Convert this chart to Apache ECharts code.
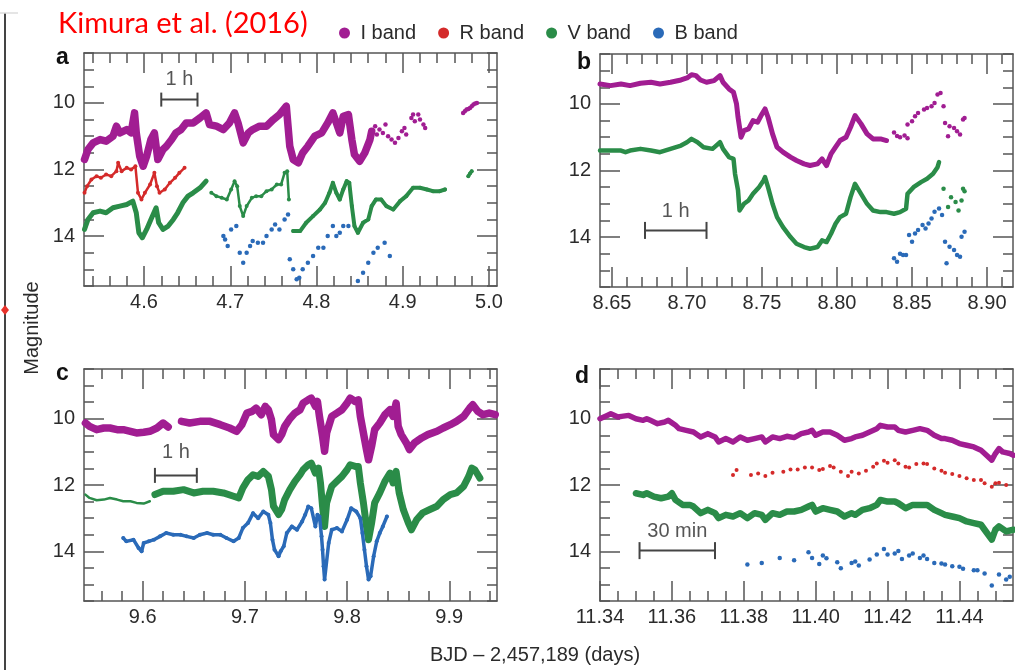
<!DOCTYPE html>
<html><head><meta charset="utf-8">
<script src="https://cdn.jsdelivr.net/npm/echarts@6/dist/echarts.min.js"></script>
<style>html,body{margin:0;padding:0;background:#fff}#c{width:1015px;height:670px}</style>
</head><body><div id="c"></div>
<script>
// ---------- tick labels ----------
const aTicks = [4.6, 4.7, 4.8, 4.9, 5.0];
const bTicks = [8.65, 8.70, 8.75, 8.80, 8.85, 8.90];
const cTicks = [9.6, 9.7, 9.8, 9.9];
const dTicks = [11.34, 11.36, 11.38, 11.40, 11.42, 11.44];
const yTicks = [10, 12, 14];

// ---------- panel a ----------
const aI = [[4.531,11.7],[4.535,11.4],[4.541,11.2],[4.549,11.1],[4.556,11.15],[4.564,11.0],[4.568,10.7],[4.572,10.9],[4.580,10.8],[4.585,10.9],[4.589,10.3],[4.591,10.9],[4.595,11.6],[4.599,11.9],[4.603,11.6],[4.608,11.1],[4.612,10.9],[4.616,11.7],[4.622,11.4],[4.626,11.3],[4.632,11.1],[4.637,10.9],[4.643,10.8],[4.649,10.6],[4.657,10.6],[4.665,10.45],[4.672,10.3],[4.676,10.65],[4.684,10.7],[4.692,10.8],[4.699,10.6],[4.705,10.3],[4.709,10.6],[4.715,11.2],[4.721,10.9],[4.726,10.8],[4.734,10.7],[4.742,10.7],[4.750,10.5],[4.757,10.35],[4.765,10.1],[4.767,10.7],[4.769,11.3],[4.773,11.7],[4.779,11.8],[4.784,11.5],[4.790,11.3],[4.798,11.0],[4.806,10.9],[4.813,10.6],[4.819,10.3],[4.823,10.6],[4.827,10.9],[4.831,10.4],[4.837,10.35],[4.841,11.1],[4.844,11.55],[4.850,11.75],[4.856,11.5],[4.862,11.1],[4.864,10.85]];
const aIdots = [[4.868,10.7],[4.870,10.95],[4.873,10.8],[4.877,10.9],[4.880,10.65],[4.883,11.0],[4.887,11.1],[4.891,11.2],[4.895,11.05],[4.899,10.85],[4.902,10.75],[4.904,10.95],[4.910,10.45],[4.912,10.35],[4.914,10.55],[4.918,10.35],[4.920,10.5],[4.924,10.65],[4.926,10.75],[4.970,10.3],[4.972,10.25],[4.974,10.2],[4.976,10.18],[4.978,10.15],[4.980,10.1],[4.982,10.05],[4.984,10.02],[4.986,10.0]];
const aR = [[4.531,12.7],[4.534,12.5],[4.539,12.3],[4.545,12.2],[4.550,12.25],[4.556,12.15],[4.562,12.2],[4.568,12.05],[4.570,11.8],[4.574,12.05],[4.580,11.95],[4.585,12.0],[4.590,11.9],[4.593,12.7],[4.597,12.9],[4.601,12.7],[4.607,12.45],[4.612,12.1],[4.615,12.5],[4.618,12.7],[4.624,12.6],[4.630,12.4],[4.636,12.25],[4.641,12.1],[4.647,11.95]];
const aV1 = [[4.531,13.8],[4.535,13.5],[4.541,13.3],[4.549,13.25],[4.556,13.3],[4.564,13.15],[4.572,13.1],[4.580,13.05],[4.587,12.95],[4.591,13.3],[4.594,13.9],[4.598,14.05],[4.603,13.8],[4.608,13.5],[4.614,13.15],[4.617,13.6],[4.622,13.8],[4.628,13.7],[4.634,13.5],[4.639,13.3],[4.645,13.0],[4.651,12.8],[4.657,12.7],[4.665,12.55],[4.672,12.35]];
const aV2 = [[4.678,12.7],[4.684,12.8],[4.690,12.85],[4.696,12.9],[4.701,12.6],[4.705,12.35],[4.708,12.5],[4.711,13.1],[4.715,13.4],[4.719,13.1],[4.725,12.85],[4.730,12.8],[4.736,12.8],[4.742,12.65],[4.748,12.6],[4.754,12.45],[4.759,12.45],[4.763,12.1],[4.766,12.05],[4.768,12.9]];
const aV3 = [[4.773,13.85],[4.781,13.85],[4.788,13.6],[4.796,13.4],[4.804,13.2],[4.810,13.0],[4.815,12.7],[4.819,12.4],[4.823,12.7],[4.827,12.9],[4.831,12.6],[4.835,12.35],[4.838,12.4],[4.841,13.1],[4.844,13.7],[4.848,13.9],[4.854,13.6],[4.860,13.5],[4.864,13.1],[4.869,12.9],[4.875,12.9],[4.881,13.1],[4.889,13.2],[4.897,12.95],[4.904,12.8],[4.912,12.55],[4.920,12.55],[4.928,12.6],[4.935,12.65],[4.943,12.65],[4.949,12.6]];
const aV4 = [[4.976,12.2],[4.978,12.12],[4.980,12.05]];
const aB = [[4.692,14.0],[4.694,14.1],[4.697,14.3],[4.701,13.8],[4.707,13.7],[4.711,14.5],[4.715,14.8],[4.719,14.5],[4.723,14.3],[4.726,14.15],[4.732,14.2],[4.738,14.2],[4.742,14.0],[4.748,13.8],[4.752,13.65],[4.757,13.8],[4.763,13.5],[4.767,13.35],[4.769,14.7],[4.773,15.0],[4.777,15.3],[4.780,15.25],[4.784,15.0],[4.790,14.8],[4.796,14.6],[4.802,14.35],[4.808,14.35],[4.813,14.0],[4.819,13.7],[4.823,14.0],[4.827,13.9],[4.831,13.7],[4.837,13.7],[4.848,15.35],[4.854,15.1],[4.860,14.8],[4.866,14.5],[4.871,14.35],[4.879,14.2],[4.885,14.6]];

// ---------- panel b ----------
const bI = [[8.642,9.4],[8.649,9.45],[8.656,9.4],[8.662,9.45],[8.669,9.38],[8.676,9.35],[8.682,9.4],[8.689,9.35],[8.696,9.28],[8.700,9.22],[8.703,9.12],[8.706,9.15],[8.709,9.28],[8.713,9.35],[8.718,9.3],[8.722,9.15],[8.724,9.35],[8.728,9.55],[8.731,9.65],[8.733,10.0],[8.734,10.4],[8.736,11.0],[8.738,10.8],[8.741,10.75],[8.744,10.5],[8.747,10.55],[8.750,10.3],[8.752,10.15],[8.754,10.4],[8.757,10.9],[8.760,11.3],[8.764,11.45],[8.769,11.6],[8.773,11.7],[8.778,11.8],[8.782,11.85],[8.787,11.8],[8.790,11.65],[8.793,11.85],[8.796,11.5],[8.799,11.3],[8.802,11.1],[8.806,11.0],[8.809,10.7],[8.812,10.35],[8.816,10.6],[8.820,10.9],[8.824,11.05],[8.829,11.05],[8.833,11.1]];
const bIdots = [[8.838,10.86],[8.840,10.96],[8.842,11.0],[8.845,10.95],[8.847,11.03],[8.847,10.62],[8.850,10.52],[8.852,10.37],[8.854,10.27],[8.858,10.17],[8.860,10.12],[8.863,10.07],[8.865,9.97],[8.867,9.72],[8.869,9.67],[8.871,10.07],[8.872,10.57],[8.874,10.97],[8.875,10.67],[8.878,10.72],[8.880,10.82],[8.882,10.92],[8.884,10.47],[8.885,10.42]];
const bV = [[8.642,11.4],[8.649,11.4],[8.656,11.4],[8.659,11.45],[8.662,11.4],[8.669,11.35],[8.676,11.4],[8.682,11.45],[8.689,11.35],[8.696,11.25],[8.700,11.15],[8.703,11.05],[8.707,11.15],[8.711,11.3],[8.717,11.35],[8.722,11.15],[8.724,11.35],[8.728,11.6],[8.731,11.65],[8.732,12.1],[8.734,12.6],[8.735,13.2],[8.738,13.0],[8.741,12.9],[8.744,12.7],[8.748,12.5],[8.751,12.3],[8.752,12.2],[8.754,12.5],[8.757,13.0],[8.760,13.4],[8.764,13.7],[8.769,14.0],[8.773,14.2],[8.778,14.3],[8.782,14.35],[8.787,14.3],[8.790,14.1],[8.793,14.15],[8.796,13.9],[8.799,13.6],[8.802,13.4],[8.806,13.3],[8.809,12.8],[8.812,12.4],[8.816,12.7],[8.820,13.0],[8.824,13.2],[8.829,13.25],[8.833,13.25],[8.838,13.3],[8.842,13.25],[8.846,13.15],[8.847,12.7],[8.851,12.5],[8.856,12.35],[8.860,12.25],[8.864,12.1],[8.867,11.9],[8.868,11.75]];
const bVdots = [[8.871,12.55],[8.874,13.1],[8.876,12.8],[8.879,12.95],[8.881,13.2],[8.883,12.9],[8.884,12.55],[8.885,12.62]];
const bB = [[8.838,14.64],[8.840,14.74],[8.842,14.5],[8.844,14.54],[8.846,14.54],[8.848,13.94],[8.850,14.14],[8.852,13.89],[8.854,13.79],[8.857,13.64],[8.859,13.74],[8.861,13.59],[8.863,13.44],[8.865,13.24],[8.868,13.14],[8.870,13.34],[8.872,14.14],[8.873,14.79],[8.875,14.29],[8.878,14.39],[8.880,14.54],[8.882,14.59],[8.883,13.99],[8.885,13.84]];

// ---------- panel c ----------
const cI1 = [[9.544,10.13],[9.548,10.23],[9.555,10.33],[9.562,10.28],[9.568,10.28],[9.575,10.33],[9.581,10.33],[9.588,10.38],[9.594,10.43],[9.601,10.41],[9.607,10.38],[9.614,10.28],[9.620,10.13],[9.625,10.25]];
const cI2 = [[9.638,10.08],[9.646,10.13],[9.656,10.08],[9.666,10.08],[9.676,10.18],[9.685,10.28],[9.692,10.38],[9.697,10.18],[9.702,9.83],[9.707,9.78],[9.711,9.68],[9.716,9.88],[9.720,9.63],[9.723,9.73],[9.726,10.03],[9.728,10.48],[9.733,10.63],[9.736,10.48],[9.739,10.23],[9.744,10.0],[9.749,9.83],[9.754,9.73],[9.757,9.53],[9.762,9.43],[9.765,9.38],[9.769,9.63],[9.771,9.48],[9.773,9.93],[9.776,10.53],[9.778,10.98],[9.780,10.43],[9.785,9.93],[9.790,9.83],[9.795,9.73],[9.800,9.53],[9.803,9.38],[9.808,9.48],[9.811,9.43],[9.813,9.93],[9.816,10.43],[9.819,10.93],[9.821,11.24],[9.824,10.83],[9.827,10.33],[9.832,10.13],[9.837,9.88],[9.842,9.73],[9.845,9.93],[9.848,9.53],[9.850,10.23],[9.853,10.48],[9.858,10.73],[9.861,10.93],[9.866,10.73],[9.873,10.58],[9.879,10.48],[9.888,10.38],[9.894,10.28],[9.901,10.18],[9.907,10.08],[9.914,9.93],[9.920,9.68],[9.923,9.58],[9.928,9.78],[9.933,9.88],[9.939,9.83],[9.945,9.88]];
const cV1 = [[9.544,12.29],[9.548,12.39],[9.555,12.46],[9.562,12.44],[9.568,12.39],[9.575,12.44],[9.581,12.49],[9.588,12.49],[9.594,12.54],[9.601,12.56],[9.607,12.49]];
const cV2 = [[9.612,12.29],[9.620,12.19],[9.630,12.19],[9.640,12.14],[9.650,12.24],[9.659,12.19],[9.669,12.19],[9.679,12.24],[9.689,12.34],[9.694,12.39],[9.698,12.09],[9.703,11.84],[9.708,11.69],[9.713,11.74],[9.718,11.59],[9.723,11.74],[9.726,12.14],[9.728,12.64],[9.733,12.89],[9.736,12.74],[9.739,12.44],[9.744,12.14],[9.749,11.89],[9.754,11.69],[9.757,11.54],[9.762,11.39],[9.765,11.34],[9.769,11.64],[9.772,11.49],[9.774,11.94],[9.776,12.64],[9.778,13.25],[9.780,12.54],[9.785,12.04],[9.790,11.89],[9.795,11.74],[9.800,11.54],[9.803,11.39],[9.808,11.44],[9.811,11.44],[9.813,11.94],[9.816,12.54],[9.819,13.25],[9.821,13.65],[9.824,13.15],[9.827,12.54],[9.832,12.24],[9.837,11.89],[9.842,11.64],[9.845,11.94],[9.848,11.59],[9.851,12.24],[9.855,12.74],[9.860,13.15],[9.863,13.35],[9.868,13.05],[9.874,12.84],[9.881,12.74],[9.888,12.64],[9.894,12.44],[9.901,12.29],[9.907,12.24],[9.914,12.04],[9.919,11.74],[9.922,11.49],[9.925,11.54],[9.928,11.69],[9.930,11.79]];
const cB = [[9.581,13.6],[9.584,13.7],[9.591,13.65],[9.596,13.9],[9.599,14.0],[9.601,13.75],[9.606,13.7],[9.611,13.65],[9.617,13.55],[9.623,13.45],[9.630,13.5],[9.637,13.5],[9.643,13.55],[9.650,13.6],[9.656,13.5],[9.663,13.45],[9.669,13.5],[9.676,13.5],[9.682,13.6],[9.689,13.7],[9.694,13.6],[9.698,13.3],[9.703,13.15],[9.708,12.85],[9.713,13.0],[9.718,12.8],[9.723,12.9],[9.725,13.15],[9.727,13.65],[9.729,13.95],[9.733,14.15],[9.735,14.0],[9.738,13.85],[9.741,13.45],[9.746,13.25],[9.751,13.35],[9.756,13.1],[9.759,12.9],[9.762,12.65],[9.765,12.7],[9.769,13.25],[9.771,12.9],[9.773,12.95],[9.775,13.55],[9.776,13.95],[9.777,14.45],[9.778,14.85],[9.782,13.75],[9.785,13.35],[9.790,13.3],[9.795,13.4],[9.800,13.05],[9.804,12.7],[9.809,12.8],[9.813,13.0],[9.815,13.45],[9.817,13.95],[9.819,14.45],[9.821,14.85],[9.823,14.75],[9.826,14.15],[9.829,13.7],[9.832,13.45],[9.835,13.25],[9.839,12.95]];

// ---------- panel d ----------
const dI = [[11.340,10.0],[11.342,9.9],[11.343,9.85],[11.345,9.95],[11.346,9.93],[11.348,9.9],[11.350,10.0],[11.352,10.05],[11.353,10.0],[11.354,10.05],[11.356,10.15],[11.358,10.1],[11.359,10.05],[11.361,10.2],[11.362,10.3],[11.364,10.35],[11.366,10.4],[11.368,10.55],[11.370,10.45],[11.372,10.55],[11.373,10.7],[11.375,10.6],[11.377,10.7],[11.379,10.55],[11.381,10.65],[11.383,10.6],[11.385,10.55],[11.386,10.7],[11.388,10.55],[11.390,10.6],[11.392,10.53],[11.394,10.57],[11.396,10.45],[11.398,10.4],[11.399,10.35],[11.400,10.5],[11.402,10.4],[11.404,10.4],[11.406,10.5],[11.408,10.65],[11.410,10.6],[11.411,10.55],[11.413,10.5],[11.415,10.4],[11.417,10.3],[11.418,10.2],[11.420,10.25],[11.422,10.25],[11.423,10.35],[11.425,10.4],[11.427,10.35],[11.429,10.3],[11.431,10.35],[11.433,10.5],[11.435,10.6],[11.436,10.6],[11.438,10.65],[11.440,10.75],[11.442,10.8],[11.444,10.85],[11.446,10.95],[11.447,11.05],[11.449,11.25],[11.450,11.05],[11.451,10.9],[11.452,11.0],[11.454,11.05],[11.455,11.1]];
const dR = [[11.377,11.7],[11.378,11.55],[11.382,11.7],[11.384,11.65],[11.386,11.73],[11.388,11.63],[11.391,11.6],[11.393,11.53],[11.395,11.53],[11.397,11.47],[11.399,11.47],[11.401,11.55],[11.402,11.52],[11.404,11.43],[11.405,11.47],[11.407,11.6],[11.409,11.73],[11.410,11.6],[11.412,11.65],[11.414,11.57],[11.416,11.45],[11.417,11.35],[11.419,11.27],[11.420,11.33],[11.422,11.25],[11.423,11.35],[11.425,11.45],[11.426,11.47],[11.428,11.37],[11.430,11.35],[11.431,11.37],[11.433,11.5],[11.435,11.57],[11.436,11.63],[11.438,11.67],[11.440,11.73],[11.442,11.8],[11.444,11.85],[11.446,11.85],[11.447,11.95],[11.449,12.05],[11.450,11.95],[11.451,11.93],[11.453,12.0],[11.455,12.05]];
const dV = [[11.350,12.25],[11.352,12.3],[11.353,12.25],[11.355,12.35],[11.357,12.4],[11.359,12.35],[11.360,12.25],[11.361,12.45],[11.363,12.6],[11.365,12.6],[11.366,12.65],[11.368,12.85],[11.370,12.75],[11.372,12.85],[11.373,13.0],[11.375,12.9],[11.377,12.95],[11.379,12.85],[11.381,13.0],[11.383,12.85],[11.385,12.9],[11.386,13.05],[11.388,12.85],[11.390,12.9],[11.392,12.8],[11.394,12.8],[11.396,12.75],[11.398,12.65],[11.399,12.6],[11.400,12.8],[11.402,12.7],[11.404,12.75],[11.406,12.8],[11.408,12.95],[11.410,12.85],[11.411,12.9],[11.413,12.75],[11.415,12.7],[11.417,12.6],[11.418,12.45],[11.420,12.5],[11.422,12.5],[11.423,12.55],[11.425,12.7],[11.427,12.6],[11.429,12.6],[11.431,12.6],[11.433,12.75],[11.435,12.85],[11.436,12.9],[11.438,12.95],[11.440,13.0],[11.442,13.1],[11.444,13.15],[11.446,13.2],[11.447,13.35],[11.449,13.65],[11.450,13.35],[11.451,13.25],[11.453,13.4],[11.455,13.35]];
const dB = [[11.381,14.4],[11.385,14.35],[11.390,14.2],[11.394,14.27],[11.398,14.03],[11.399,14.2],[11.401,14.38],[11.402,14.13],[11.403,14.21],[11.406,14.33],[11.407,14.51],[11.410,14.35],[11.411,14.31],[11.412,14.43],[11.415,14.25],[11.417,14.1],[11.419,13.93],[11.420,14.1],[11.422,14.07],[11.423,13.99],[11.424,14.23],[11.426,14.13],[11.427,14.07],[11.429,14.2],[11.430,14.13],[11.431,14.23],[11.433,14.35],[11.435,14.37],[11.436,14.4],[11.438,14.45],[11.440,14.47],[11.441,14.53],[11.444,14.57],[11.445,14.57],[11.447,14.67],[11.449,15.03],[11.451,14.7],[11.453,14.85],[11.454,14.77]];

// ---------- scale bars (start x, end x, y, label y, label) ----------
const scaleBars = [
  {panel:0, x0:4.620, x1:4.662, y:9.9,   ly:9.3,   text:'1 h',    cap:14},
  {panel:1, x0:8.672, x1:8.713, y:13.8,  ly:13.22, text:'1 h',    cap:17},
  {panel:2, x0:9.612, x1:9.653, y:11.71, ly:11.03, text:'1 h',    cap:15},
  {panel:3, x0:11.351,x1:11.372,y:13.98, ly:13.41, text:'30 min', cap:17}
];

// ---------- styling ----------
const COL = {I:'#a11d92', R:'#d42a2a', V:'#2a8c48', B:'#2a6ab8'};
const NAME = {I:'I band', R:'R band', V:'V band', B:'B band'};
const AX = '#555';
const TXT = '#2b2b2b';
const FF = '"Liberation Sans", Arial, Helvetica, sans-serif';

function steps(lo, hi, st, excl){
  const out=[]; const n0=Math.ceil(lo/st-1e-6), n1=Math.floor(hi/st+1e-6);
  for(let n=n0;n<=n1;n++){const v=+(n*st).toFixed(5); if(!excl.some(e=>Math.abs(e-v)<1e-7)) out.push(v);}
  return out;
}

const panels = [
  {grid:{left:84,top:53,width:413,height:233},  xr:[4.5304,5.0093],  major:aTicks, step:0.02,  dec:1},
  {grid:{left:600,top:54,width:413,height:233}, xr:[8.642,8.9173],   major:bTicks, step:0.01,  dec:2},
  {grid:{left:84,top:369,width:413,height:232}, xr:[9.5426,9.9467],  major:cTicks, step:0.02,  dec:1},
  {grid:{left:600,top:369,width:413,height:232},xr:[11.34,11.4549],  major:dTicks, step:0.005, dec:2}
];
const yMinor = steps(8.5, 15.5, 0.5, yTicks);
const ls = {color:AX, width:1.5};

const grids=[], xAxes=[], yAxes=[];
panels.forEach((p,g)=>{
  grids.push(Object.assign({outerBoundsMode:'none', containLabel:false}, p.grid));
  const xMinor = steps(p.xr[0], p.xr[1], p.step, p.major);
  const cx = {type:'value', gridIndex:g, min:p.xr[0], max:p.xr[1], splitLine:{show:false}, axisPointer:{show:false}};
  const cy = {type:'value', gridIndex:g, min:8.5, max:15.5, inverse:true, splitLine:{show:false}, axisPointer:{show:false}};
  const lab = {fontSize:20, color:TXT, fontFamily:FF};
  xAxes.push(
    Object.assign({}, cx, {position:'bottom', axisLine:{show:true,onZero:false,lineStyle:ls}, axisTick:{show:true,inside:true,length:20,customValues:p.major,lineStyle:ls}, axisLabel:Object.assign({show:true,customValues:p.major,formatter:v=>(+v).toFixed(p.dec),margin:6},lab)}),
    Object.assign({}, cx, {position:'bottom', axisLine:{show:false,onZero:false}, axisTick:{show:true,inside:true,length:10,customValues:xMinor,lineStyle:ls}, axisLabel:{show:false}}),
    Object.assign({}, cx, {position:'top', axisLine:{show:true,onZero:false,lineStyle:ls}, axisTick:{show:true,inside:true,length:20,customValues:p.major,lineStyle:ls}, axisLabel:{show:false}}),
    Object.assign({}, cx, {position:'top', axisLine:{show:false,onZero:false}, axisTick:{show:true,inside:true,length:10,customValues:xMinor,lineStyle:ls}, axisLabel:{show:false}})
  );
  yAxes.push(
    Object.assign({}, cy, {position:'left', axisLine:{show:true,onZero:false,lineStyle:ls}, axisTick:{show:true,inside:true,length:20,customValues:yTicks,lineStyle:ls}, axisLabel:Object.assign({show:true,customValues:yTicks,formatter:v=>String(Math.round(v)),margin:9},lab)}),
    Object.assign({}, cy, {position:'left', axisLine:{show:false,onZero:false}, axisTick:{show:true,inside:true,length:10,customValues:yMinor,lineStyle:ls}, axisLabel:{show:false}}),
    Object.assign({}, cy, {position:'right', axisLine:{show:true,onZero:false,lineStyle:ls}, axisTick:{show:true,inside:true,length:20,customValues:yTicks,lineStyle:ls}, axisLabel:{show:false}}),
    Object.assign({}, cy, {position:'right', axisLine:{show:false,onZero:false}, axisTick:{show:true,inside:true,length:10,customValues:yMinor,lineStyle:ls}, axisLabel:{show:false}})
  );
});

const series=[];
function line(band, data, g, w, sym){
  series.push({type:'line', name:NAME[band], data, xAxisIndex:4*g, yAxisIndex:4*g,
    showSymbol:!!sym, symbol:'circle', symbolSize:sym||0, smooth:false, silent:true, z:3,
    lineStyle:{width:w, color:COL[band], join:'round', cap:'round'}, itemStyle:{color:COL[band]}});
}
function dots(band, data, g, size){
  series.push({type:'scatter', name:NAME[band], data, xAxisIndex:4*g, yAxisIndex:4*g,
    symbol:'circle', symbolSize:size, silent:true, z:3, itemStyle:{color:COL[band], opacity:1}});
}
// legend-order anchors first
line('I', aI, 0, 7.5);
line('R', aR, 0, 2.5, 4);
line('V', aV1, 0, 5);
dots('B', aB, 0, 4.5);
dots('I', aIdots, 0, 4.5);
line('V', aV2, 0, 2.5, 4);
line('V', aV3, 0, 4, 4);
line('V', aV4, 0, 3.5, 4);
// b
line('I', bI, 1, 5);
dots('I', bIdots, 1, 4.5);
line('V', bV, 1, 4.5);
dots('V', bVdots, 1, 4.5);
dots('B', bB, 1, 4.5);
// c
line('I', cI1, 2, 7.5);
line('I', cI2, 2, 7.5);
line('V', cV1, 2, 2.5);
line('V', cV2, 2, 7);
line('B', cB, 2, 3.5, 4);
// d
line('I', dI, 3, 5.5);
dots('R', dR, 3, 4);
line('V', dV, 3, 6.5);
dots('B', dB, 3, 4.5);

scaleBars.forEach(s=>{
  series.push({type:'line', name:'scale'+s.panel, data:[[s.x0,s.y],[s.x1,s.y]], xAxisIndex:4*s.panel, yAxisIndex:4*s.panel,
    showSymbol:true, symbol:'rect', symbolSize:[2,s.cap], silent:true, z:4,
    lineStyle:{width:2, color:'#444'}, itemStyle:{color:'#444'}});
  series.push({type:'scatter', name:'scaleLabel'+s.panel, data:[[(s.x0+s.x1)/2, s.ly]], xAxisIndex:4*s.panel, yAxisIndex:4*s.panel,
    symbolSize:0.1, silent:true, z:4, itemStyle:{color:'rgba(0,0,0,0)'},
    label:{show:true, position:'inside', formatter:s.text, fontSize:20, color:TXT, fontFamily:FF}});
});

const panelLetters = [['a',56,59],['b',577,64],['c',56,375],['d',575,378]];

const option = {
  animation:false,
  backgroundColor:'#fff',
  title:{text:'Kimura et al. (2016)', left:53, top:4, textStyle:{color:'#ff0000', fontSize:29, fontWeight:'normal', fontFamily:'Lato, "Open Sans", sans-serif'}},
  legend:{data:['I band','R band','V band','B band'], left:334, top:18, icon:'circle', itemWidth:22, itemHeight:11, itemGap:22,
    textStyle:{fontSize:20, color:TXT, fontFamily:FF}, selectedMode:false},
  grid:grids, xAxis:xAxes, yAxis:yAxes, series,
  graphic:[
    ...panelLetters.map(([t,x,y])=>({type:'text', left:x, top:y-13, style:{text:t, font:'bold 23px '+FF, fill:'#111'}})),
    {type:'text', x:32, y:328, rotation:Math.PI/2, style:{text:'Magnitude', font:'20px '+FF, fill:TXT, align:'center', verticalAlign:'middle'}},
    {type:'text', x:535, y:655, style:{text:'BJD \u2013 2,457,189 (days)', font:'20px '+FF, fill:TXT, align:'center', verticalAlign:'middle'}},
    {type:'line', shape:{x1:5,y1:13,x2:5,y2:670}, style:{stroke:'#444', lineWidth:2}},
    {type:'line', shape:{x1:0,y1:13,x2:18,y2:13}, style:{stroke:'#ddd', lineWidth:1.5}},
    {type:'polygon', shape:{points:[[5,305],[9,310],[5,315],[1,310]]}, style:{fill:'#e8322a'}}
  ]
};
const chart = echarts.init(document.getElementById('c'));
chart.setOption(option);
</script>
</body></html>
